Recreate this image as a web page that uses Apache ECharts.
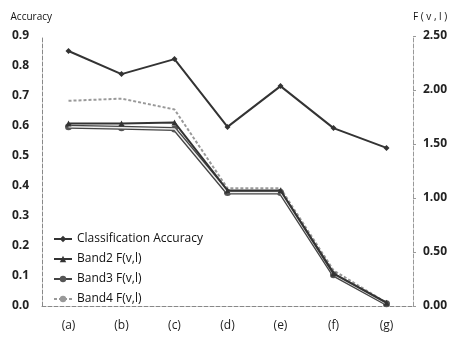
<!DOCTYPE html>
<html>
<head>
<meta charset="utf-8">
<script src="https://cdn.jsdelivr.net/npm/echarts@6/dist/echarts.min.js"></script>
<style>
html, body { margin: 0; padding: 0; background: #fff; }
#chart { width: 451px; height: 337px; }
</style>
</head>
<body>
<div id="chart"></div>
<script>
const categories = ['(a)', '(b)', '(c)', '(d)', '(e)', '(f)', '(g)'];
const accuracy = [0.85, 0.773, 0.823, 0.597, 0.733, 0.593, 0.527];
const band2 = [1.69, 1.69, 1.70, 1.07, 1.07, 0.30, 0.03];
const band3 = [1.66, 1.65, 1.64, 1.05, 1.05, 0.29, 0.02];
const band4 = [1.90, 1.92, 1.82, 1.09, 1.09, 0.33, 0.03];

var chartDom = document.getElementById('chart');
var myChart = echarts.init(chartDom);

const labelFont = { fontFamily: 'Open Sans', fontSize: 12, fontWeight: 'bold', color: '#222' };

var option = {
    animation: false,
    backgroundColor: '#fff',
    grid: { left: 42, right: 38, top: 36, bottom: 31 },
    legend: {
        orient: 'vertical',
        left: 48,
        top: 228,
        itemGap: 8,
        itemWidth: 18,
        itemHeight: 8,
        textStyle: { fontFamily: 'Open Sans', fontSize: 12, color: '#111' },
        data: ['Classification Accuracy', 'Band2 F(v,l)', 'Band3 F(v,l)', 'Band4 F(v,l)']
    },
    xAxis: {
        type: 'category',
        data: categories,
        axisLine: { lineStyle: { color: '#888', type: 'dashed', width: 1 } },
        axisTick: { show: false },
        axisLabel: Object.assign({ margin: 14 }, labelFont, { fontWeight: 'normal' })
    },
    yAxis: [
        {
            type: 'value',
            min: 0, max: 0.9, interval: 0.1,
            name: 'Accuracy',
            nameLocation: 'end',
            nameGap: 14,
            nameTextStyle: { fontFamily: 'Open Sans', fontSize: 10, color: '#111', align: 'right', padding: [0, -10, 0, 0] },
            axisLine: { show: true, lineStyle: { color: '#888', type: 'dashed' } },
            axisTick: { show: false },
            splitLine: { show: false },
            axisLabel: Object.assign({ margin: 30, align: 'left', formatter: v => v.toFixed(1) }, labelFont)
        },
        {
            type: 'value',
            min: 0, max: 2.5, interval: 0.5,
            name: 'F ( v , l )',
            nameLocation: 'end',
            nameGap: 14,
            nameTextStyle: { fontFamily: 'Open Sans', fontSize: 10, color: '#111', align: 'left' },
            axisLine: { show: true, lineStyle: { color: '#999', type: 'dashed' } },
            axisTick: { show: true, length: 3, lineStyle: { color: '#999' } },
            splitLine: { show: false },
            axisLabel: Object.assign({ margin: 10, formatter: v => v.toFixed(2) }, labelFont)
        }
    ],
    series: [
        {
            name: 'Classification Accuracy',
            type: 'line',
            yAxisIndex: 0,
            data: accuracy,
            symbol: 'diamond',
            symbolSize: 6,
            itemStyle: { color: '#333' },
            lineStyle: { color: '#333', width: 2 }
        },
        {
            name: 'Band3 F(v,l)',
            type: 'line',
            yAxisIndex: 1,
            data: band3,
            symbol: 'circle',
            symbolSize: 7,
            itemStyle: { color: '#555' },
            lineStyle: { color: '#444', width: 4 },
            z: 2
        },
        {
            name: 'band3inner',
            type: 'line',
            yAxisIndex: 1,
            data: band3,
            symbol: 'none',
            lineStyle: { color: '#eee', width: 1.5 },
            z: 3,
            silent: true
        },
        {
            name: 'Band2 F(v,l)',
            type: 'line',
            yAxisIndex: 1,
            data: band2,
            symbol: 'triangle',
            symbolSize: 6,
            itemStyle: { color: '#333' },
            lineStyle: { color: '#333', width: 2 },
            z: 4
        },
        {
            name: 'Band4 F(v,l)',
            type: 'line',
            yAxisIndex: 1,
            data: band4,
            symbol: 'none',
            itemStyle: { color: '#999' },
            lineStyle: { color: '#999', width: 2, type: [3, 2] },
            z: 1
        }
    ]
};

option && myChart.setOption(option);
</script>
</body>
</html>
